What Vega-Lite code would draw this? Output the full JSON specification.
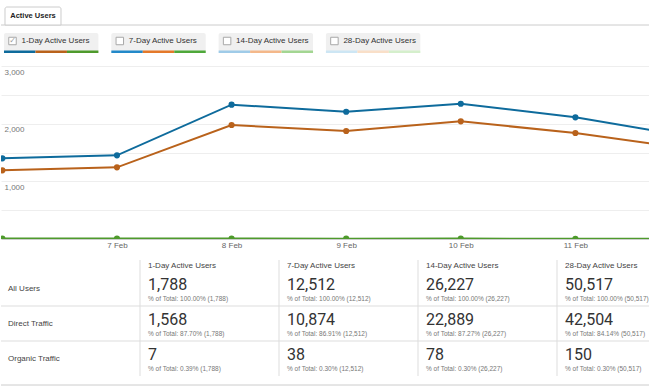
{
  "$schema": "https://vega.github.io/schema/vega-lite/v6.json",
  "padding": {"top": 6, "left": 0, "right": 0, "bottom": 0},
  "background": "#ffffff",
  "config": {"view": {"stroke": null}, "font": "Roboto"},
  "datasets": {
    "buttons": [
      {"metric": "1-Day Active Users", "segment": "All Users", "checked": true},
      {"metric": "1-Day Active Users", "segment": "Direct Traffic", "checked": true},
      {"metric": "1-Day Active Users", "segment": "Organic Traffic", "checked": true},
      {"metric": "7-Day Active Users", "segment": "All Users", "checked": false},
      {"metric": "7-Day Active Users", "segment": "Direct Traffic", "checked": false},
      {"metric": "7-Day Active Users", "segment": "Organic Traffic", "checked": false},
      {"metric": "14-Day Active Users", "segment": "All Users", "checked": false},
      {"metric": "14-Day Active Users", "segment": "Direct Traffic", "checked": false},
      {"metric": "14-Day Active Users", "segment": "Organic Traffic", "checked": false},
      {"metric": "28-Day Active Users", "segment": "All Users", "checked": false},
      {"metric": "28-Day Active Users", "segment": "Direct Traffic", "checked": false},
      {"metric": "28-Day Active Users", "segment": "Organic Traffic", "checked": false}
    ],
    "series": [
      {"day": 6, "segment": "All Users", "value": 1399},
      {"day": 7, "segment": "All Users", "value": 1451},
      {"day": 8, "segment": "All Users", "value": 2329},
      {"day": 9, "segment": "All Users", "value": 2207},
      {"day": 10, "segment": "All Users", "value": 2346},
      {"day": 11, "segment": "All Users", "value": 2110},
      {"day": 12, "segment": "All Users", "value": 1773},
      {"day": 6, "segment": "Direct Traffic", "value": 1191},
      {"day": 7, "segment": "Direct Traffic", "value": 1243},
      {"day": 8, "segment": "Direct Traffic", "value": 1977},
      {"day": 9, "segment": "Direct Traffic", "value": 1873},
      {"day": 10, "segment": "Direct Traffic", "value": 2041},
      {"day": 11, "segment": "Direct Traffic", "value": 1838},
      {"day": 12, "segment": "Direct Traffic", "value": 1563},
      {"day": 6, "segment": "Organic Traffic", "value": 8},
      {"day": 7, "segment": "Organic Traffic", "value": 7},
      {"day": 8, "segment": "Organic Traffic", "value": 9},
      {"day": 9, "segment": "Organic Traffic", "value": 6},
      {"day": 10, "segment": "Organic Traffic", "value": 7},
      {"day": 11, "segment": "Organic Traffic", "value": 5},
      {"day": 12, "segment": "Organic Traffic", "value": 6}
    ],
    "table": [
      {"segment": "All Users", "metric": "1-Day Active Users", "value": 1788, "share": "% of Total: 100.00% (1,788)"},
      {"segment": "All Users", "metric": "7-Day Active Users", "value": 12512, "share": "% of Total: 100.00% (12,512)"},
      {"segment": "All Users", "metric": "14-Day Active Users", "value": 26227, "share": "% of Total: 100.00% (26,227)"},
      {"segment": "All Users", "metric": "28-Day Active Users", "value": 50517, "share": "% of Total: 100.00% (50,517)"},
      {"segment": "Direct Traffic", "metric": "1-Day Active Users", "value": 1568, "share": "% of Total: 87.70% (1,788)"},
      {"segment": "Direct Traffic", "metric": "7-Day Active Users", "value": 10874, "share": "% of Total: 86.91% (12,512)"},
      {"segment": "Direct Traffic", "metric": "14-Day Active Users", "value": 22889, "share": "% of Total: 87.27% (26,227)"},
      {"segment": "Direct Traffic", "metric": "28-Day Active Users", "value": 42504, "share": "% of Total: 84.14% (50,517)"},
      {"segment": "Organic Traffic", "metric": "1-Day Active Users", "value": 7, "share": "% of Total: 0.39% (1,788)"},
      {"segment": "Organic Traffic", "metric": "7-Day Active Users", "value": 38, "share": "% of Total: 0.30% (12,512)"},
      {"segment": "Organic Traffic", "metric": "14-Day Active Users", "value": 78, "share": "% of Total: 0.30% (26,227)"},
      {"segment": "Organic Traffic", "metric": "28-Day Active Users", "value": 150, "share": "% of Total: 0.30% (50,517)"}
    ]
  },
  "spacing": 10,
  "vconcat": [
    {
      "spacing": 13,
      "vconcat": [
        {
          "width": 649,
          "height": 46,
          "resolve": {"scale": {"x": "independent"}},
          "layer": [
            {
              "data": {"values": [{"k": "line"}]},
              "mark": {"type": "rule", "stroke": "#cccccc", "strokeWidth": 1},
              "encoding": {
                "y": {"datum": 28, "type": "quantitative", "scale": {"domain": [0, 46], "nice": false, "zero": false}, "axis": null}
              }
            },
            {
              "data": {"values": [{"tab": "Active Users"}]},
              "layer": [
                {
                  "mark": {"type": "bar", "fill": "#ffffff", "stroke": "#cccccc", "strokeWidth": 1, "cornerRadiusTopLeft": 2, "cornerRadiusTopRight": 2},
                  "encoding": {
                    "x": {"field": "tab", "type": "nominal",
                      "scale": {"type": "band", "domain": ["Active Users", "t1", "t2", "t3", "t4", "t5", "t6", "t7", "t8", "t9", "t10"], "paddingInner": 0, "paddingOuter": 0.2946, "align": 0.121},
                      "axis": null},
                    "y": {"datum": 28, "type": "quantitative"},
                    "y2": {"datum": 46}
                  }
                },
                {
                  "mark": {"type": "text", "font": "Liberation Sans", "fontSize": 7.5, "fontWeight": "bold", "fill": "#222222", "baseline": "middle", "align": "center"},
                  "encoding": {
                    "x": {"field": "tab", "type": "nominal", "scale": {"type": "band"}, "axis": null},
                    "y": {"datum": 37, "type": "quantitative"},
                    "text": {"field": "tab"}
                  }
                }
              ]
            },
            {
              "data": {"name": "buttons"},
              "layer": [
                {
                  "transform": [{"filter": "datum.segment === 'All Users'"}],
                  "mark": {"type": "bar", "fill": "#f0f0f0", "cornerRadius": 2},
                  "encoding": {
                    "x": {"field": "metric", "type": "nominal",
                      "scale": {"type": "band", "domain": ["1-Day Active Users", "7-Day Active Users", "14-Day Active Users", "28-Day Active Users", "m5"], "paddingInner": 0.12, "paddingOuter": 0.584, "align": 0.0239},
                      "axis": null},
                    "y": {"datum": 1.5, "type": "quantitative"},
                    "y2": {"datum": 20}
                  }
                },
                {
                  "transform": [{"calculate": "datum.metric + ' | ' + datum.segment", "as": "swatch"}],
                  "mark": {"type": "bar"},
                  "encoding": {
                    "x": {"field": "metric", "type": "nominal", "scale": {"type": "band"}, "axis": null},
                    "xOffset": {"field": "segment", "type": "nominal", "scale": {"domain": ["All Users", "Direct Traffic", "Organic Traffic"], "paddingInner": 0, "paddingOuter": 0}},
                    "y": {"datum": 0, "type": "quantitative"},
                    "y2": {"datum": 2.5},
                    "color": {"field": "swatch", "type": "nominal", "legend": null,
                      "scale": {
                        "domain": [
                          "1-Day Active Users | All Users", "1-Day Active Users | Direct Traffic", "1-Day Active Users | Organic Traffic",
                          "7-Day Active Users | All Users", "7-Day Active Users | Direct Traffic", "7-Day Active Users | Organic Traffic",
                          "14-Day Active Users | All Users", "14-Day Active Users | Direct Traffic", "14-Day Active Users | Organic Traffic",
                          "28-Day Active Users | All Users", "28-Day Active Users | Direct Traffic", "28-Day Active Users | Organic Traffic"
                        ],
                        "range": [
                          "#0e6b9c", "#b9621b", "#4e9a2c",
                          "#2389c9", "#e4792a", "#4fa83a",
                          "#9fcbe8", "#f4b88a", "#a3d692",
                          "#cde6f4", "#f9dfc8", "#d5efcc"
                        ]
                      }}
                  }
                },
                {
                  "transform": [{"filter": "datum.segment === 'All Users'"}],
                  "mark": {"type": "point", "shape": "square", "size": 56, "filled": true, "fill": "#ffffff", "stroke": "#a8a8a8", "strokeWidth": 1, "opacity": 1, "xOffset": 8.5},
                  "encoding": {
                    "x": {"field": "metric", "type": "nominal", "bandPosition": 0, "scale": {"type": "band"}, "axis": null},
                    "y": {"datum": 12, "type": "quantitative"}
                  }
                },
                {
                  "transform": [{"filter": "datum.segment === 'All Users' && datum.checked"}],
                  "mark": {"type": "text", "text": "✓", "font": "DejaVu Sans", "fontSize": 8, "fill": "#9a9a9a", "xOffset": 8.5, "baseline": "middle", "align": "center"},
                  "encoding": {
                    "x": {"field": "metric", "type": "nominal", "bandPosition": 0, "scale": {"type": "band"}, "axis": null},
                    "y": {"datum": 12, "type": "quantitative"}
                  }
                },
                {
                  "transform": [{"filter": "datum.segment === 'All Users'"}],
                  "mark": {"type": "text", "align": "left", "baseline": "middle", "font": "Liberation Sans", "fontSize": 8, "fill": "#333333", "xOffset": 17.5},
                  "encoding": {
                    "x": {"field": "metric", "type": "nominal", "bandPosition": 0, "scale": {"type": "band"}, "axis": null},
                    "y": {"datum": 12, "type": "quantitative"},
                    "text": {"field": "metric"}
                  }
                }
              ]
            }
          ]
        },
        {
          "width": 649,
          "height": 173,
          "data": {"name": "series"},
          "encoding": {
            "x": {"field": "day", "type": "quantitative",
              "scale": {"domain": [5.988, 11.651], "nice": false, "zero": false},
              "axis": {"title": null, "values": [7, 8, 9, 10, 11], "labelExpr": "datum.value + ' Feb'", "grid": false, "ticks": false, "tickSize": 0,
                "domain": true, "domainColor": "#cccccc", "labelPadding": 2, "labelFontSize": 8, "labelColor": "#666666", "labelFlush": false, "labelFont": "Liberation Sans"}},
            "y": {"field": "value", "type": "quantitative",
              "scale": {"domain": [0, 3000], "nice": false},
              "axis": {"title": null, "values": [0, 500, 1000, 1500, 2000, 2500, 3000],
                "labelExpr": "datum.value > 0 && datum.value % 1000 === 0 ? format(datum.value, ',') : ''",
                "grid": true, "gridColor": "#eeeeee", "ticks": false, "tickSize": 0, "domain": false,
                "labelAlign": "left", "labelBaseline": "top", "labelPadding": -3, "labelOffset": 2,
                "labelFontSize": 8, "labelColor": "#777777", "labelFont": "Liberation Sans"}},
            "color": {"field": "segment", "type": "nominal", "legend": null,
              "scale": {"domain": ["All Users", "Direct Traffic", "Organic Traffic"], "range": ["#0c6a9b", "#c5620f", "#4f9b20"]}}
          },
          "layer": [
            {"mark": {"type": "line", "strokeWidth": 2, "clip": true}},
            {"mark": {"type": "point", "filled": true, "size": 38, "opacity": 1, "clip": true}}
          ]
        }
      ]
    },
    {
      "width": 649,
      "height": 105,
      "data": {"name": "table"},
      "layer": [
        {
          "transform": [{"filter": "datum.metric === '1-Day Active Users' && datum.segment !== 'All Users'"}],
          "mark": {"type": "rule", "stroke": "#dddddd", "strokeWidth": 1},
          "encoding": {
            "y": {"field": "segment", "type": "nominal", "bandPosition": 0,
              "scale": {"type": "band", "domain": ["All Users", "Direct Traffic", "Organic Traffic"], "paddingInner": 0, "paddingOuter": 0}, "axis": null}
          }
        },
        {
          "transform": [{"filter": "datum.metric === '1-Day Active Users' && datum.segment === 'Organic Traffic'"}],
          "mark": {"type": "rule", "stroke": "#cccccc", "strokeWidth": 1, "yOffset": 9},
          "encoding": {
            "y": {"field": "segment", "type": "nominal", "bandPosition": 1, "scale": {"type": "band"}, "axis": null}
          }
        },
        {
          "transform": [{"filter": "datum.segment === 'All Users'"}],
          "mark": {"type": "rule", "stroke": "#dddddd", "strokeWidth": 1, "yOffset": -11},
          "encoding": {
            "x": {"field": "metric", "type": "nominal", "bandPosition": 0,
              "scale": {"type": "band", "domain": ["Segment", "1-Day Active Users", "7-Day Active Users", "14-Day Active Users", "28-Day Active Users"], "range": [0, 695], "paddingInner": 0, "paddingOuter": 0}, "axis": null},
            "y": {"field": "segment", "type": "nominal", "bandPosition": 0, "scale": {"type": "band"}, "axis": null},
            "y2": {"datum": "Organic Traffic", "bandPosition": 1}
          }
        },
        {
          "transform": [{"filter": "datum.segment === 'All Users'"}],
          "mark": {"type": "text", "align": "left", "baseline": "alphabetic", "font": "Liberation Sans", "fontSize": 8, "fontWeight": "normal", "fill": "#444444", "dx": 8, "dy": -3},
          "encoding": {
            "x": {"field": "metric", "type": "nominal", "bandPosition": 0, "scale": {"type": "band"}, "axis": null},
            "y": {"field": "segment", "type": "nominal", "bandPosition": 0, "scale": {"type": "band"}, "axis": null},
            "text": {"field": "metric"}
          }
        },
        {
          "mark": {"type": "text", "align": "left", "baseline": "alphabetic", "font": "Roboto", "fontSize": 16, "fontWeight": "normal", "fill": "#333333", "dx": 8, "dy": 19, "clip": true},
          "encoding": {
            "x": {"field": "metric", "type": "nominal", "bandPosition": 0, "scale": {"type": "band"}, "axis": null},
            "y": {"field": "segment", "type": "nominal", "bandPosition": 0, "scale": {"type": "band"}, "axis": null},
            "text": {"field": "value", "type": "quantitative", "format": ","}
          }
        },
        {
          "mark": {"type": "text", "align": "left", "baseline": "alphabetic", "font": "Liberation Sans", "fontSize": 6.5, "fontWeight": "normal", "fill": "#777777", "dx": 8, "dy": 30, "clip": true},
          "encoding": {
            "x": {"field": "metric", "type": "nominal", "bandPosition": 0, "scale": {"type": "band"}, "axis": null},
            "y": {"field": "segment", "type": "nominal", "bandPosition": 0, "scale": {"type": "band"}, "axis": null},
            "text": {"field": "share"}
          }
        },
        {
          "data": {"values": [
            {"metric": "Segment", "segment": "All Users"},
            {"metric": "Segment", "segment": "Direct Traffic"},
            {"metric": "Segment", "segment": "Organic Traffic"}
          ]},
          "mark": {"type": "text", "align": "left", "baseline": "middle", "font": "Liberation Sans", "fontSize": 8, "fontWeight": "normal", "fill": "#444444", "dx": 7, "dy": 18},
          "encoding": {
            "x": {"field": "metric", "type": "nominal", "bandPosition": 0, "scale": {"type": "band"}, "axis": null},
            "y": {"field": "segment", "type": "nominal", "bandPosition": 0, "scale": {"type": "band"}, "axis": null},
            "text": {"field": "segment"}
          }
        }
      ]
    }
  ]
}
